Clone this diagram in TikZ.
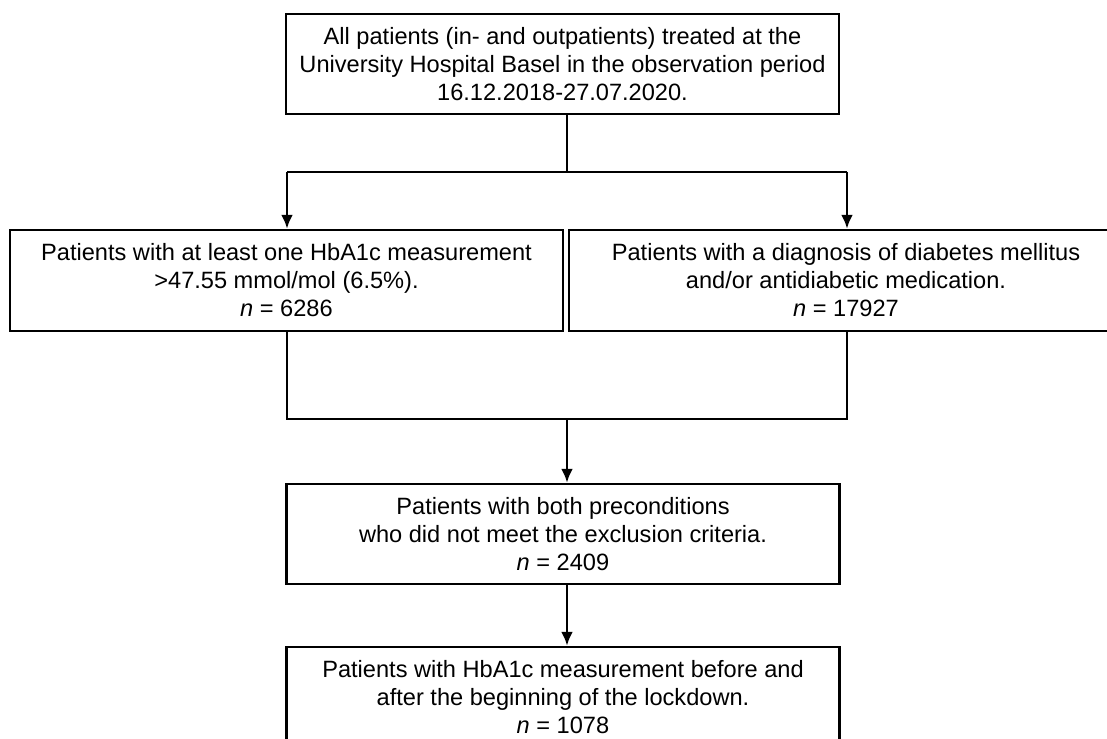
\documentclass[tikz,border=0pt]{standalone}
\usepackage{fontspec}
\setmainfont{Liberation Sans}
\usetikzlibrary{arrows.meta}
\begin{document}
\begin{tikzpicture}[x=1pt,y=-1pt,
  box/.style={draw=black, line width=2.4pt, fill=white, align=center,
    inner sep=0pt, minimum width=553pt, minimum height=100pt,
    font=\fontsize{23.6}{28}\selectfont},
  conn/.style={draw=black, line width=2.7pt},
  arr/.style={conn, -{Latex[length=14pt,width=12pt]}}]
\useasboundingbox (0,0) rectangle (1107,738);
\clip (0,0) rectangle (1107,738);
\node[box] (top) at (562.5,64) {All patients (in- and outpatients) treated at the\\University Hospital Basel in the observation period\\16.12.2018-27.07.2020.};
\node[box, minimum height=101pt] (left) at (286.5,280.5) {Patients with at least one HbA1c measurement\\>47.55 mmol/mol (6.5\%).\\\textit{n} = 6286};
\node[box, minimum height=101pt, minimum width=554pt] (right) at (846,280.5) {Patients with a diagnosis of diabetes mellitus\\and/or antidiabetic medication.\\\textit{n} = 17927};
\node[box] (mid) at (563,534) {Patients with both preconditions\\who did not meet the exclusion criteria.\\\textit{n} = 2409};
\node[box] (bot) at (563,697) {Patients with HbA1c measurement before and\\after the beginning of the lockdown.\\\textit{n} = 1078};
\coordinate (s) at (567,172);
\coordinate (sl) at (287,172);
\coordinate (sr) at (847,172);
\coordinate (j) at (567,419);
\coordinate (jl) at (287,419);
\coordinate (jr) at (847,420);
\draw[conn] (top.south -| s) -- (s);
\draw[conn] (sl) -- (sr);
\draw[arr] (sl) -- (sl |- left.north);
\draw[arr] (sr) -- (sr |- right.north);
\draw[conn] (left.south -| jl) -- (jl) -- (jl -| jr);
\draw[conn] (right.south -| jr) -- (jr);
\draw[arr] (j) -- (j |- mid.north);
\draw[arr] (mid.south -| j) -- (j |- bot.north);
\end{tikzpicture}
\end{document}
